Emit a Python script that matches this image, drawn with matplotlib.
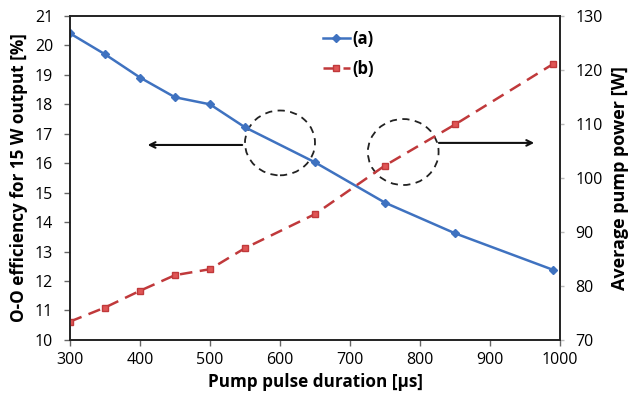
import matplotlib.pyplot as plt
from matplotlib.patches import Ellipse

plt.rcParams['font.family'] = ['Open Sans', 'DejaVu Sans']

duration = [300, 350, 400, 450, 500, 550, 650, 750, 850, 990]
efficiency = [20.41, 19.70, 18.91, 18.24, 18.00, 17.22, 16.03, 14.66, 13.62, 12.38]
pump_power = [73.4, 76.0, 79.1, 82.0, 83.1, 87.0, 93.3, 102.3, 109.9, 121.1]

fig = plt.figure(figsize=(6.3, 3.99), dpi=100)
ax = fig.add_axes([0.111, 0.148, 0.778, 0.812])
ax2 = ax.twinx()

blue = '#3f72c0'
red = '#c0393b'

la, = ax.plot(duration, efficiency, color=blue, lw=1.8, marker='D', ms=4,
              mfc=blue, mec=blue, label='(a)')
lb, = ax2.plot(duration, pump_power, color=red, lw=1.8, ls=(0, (5, 3)),
               marker='s', ms=5, mfc='#e05555', mec=red, label='(b)')

ax.set_xlim(300, 1000)
ax.set_ylim(10, 21)
ax.set_yticks(range(10, 22))
ax.set_xticks(range(300, 1001, 100))
ax2.set_ylim(70, 130)
ax2.set_yticks(range(70, 131, 10))

ax.tick_params(axis='y', labelsize=11.5, color='#666666', length=4, width=1, pad=8)
ax.tick_params(axis='x', labelsize=11.5, color='#666666', length=4, width=1, pad=5)
ax2.tick_params(axis='y', labelsize=11.5, color='#bbbbbb', length=3, width=1, pad=8)
for a in (ax, ax2):
    for s in a.spines.values():
        s.set_color('#222222')
        s.set_linewidth(1.2)

ax.set_xlabel('Pump pulse duration [µs]', fontsize=12.3, fontweight='bold', labelpad=3)
ax.set_ylabel('O-O efficiency for 15 W output [%]', fontsize=12.3, fontweight='bold', labelpad=5)
ax2.set_ylabel('Average pump power [W]', fontsize=13, fontweight='bold', labelpad=6)

ax.add_patch(Ellipse((600, 16.69), 100, 2.2, fill=False, ls=(0, (4, 3)), lw=1.3, color='#222222'))
ax.add_patch(Ellipse((776, 16.38), 101, 2.24, fill=False, ls=(0, (4, 3)), lw=1.3, color='#222222'))
ax.annotate('', xy=(407, 16.62), xytext=(550, 16.62),
            arrowprops=dict(arrowstyle='->', color='#111111', lw=1.5))
ax.annotate('', xy=(967, 16.69), xytext=(823, 16.69),
            arrowprops=dict(arrowstyle='->', color='#111111', lw=1.5))

ax.legend(handles=[la, lb], loc='upper left', bbox_to_anchor=(0.516, 0.957),
          frameon=False, handlelength=1.6, handletextpad=0.15, borderpad=0,
          borderaxespad=0, labelspacing=0.72, prop={'weight': 'bold', 'size': 12})

fig.savefig('out.png', dpi=100)
